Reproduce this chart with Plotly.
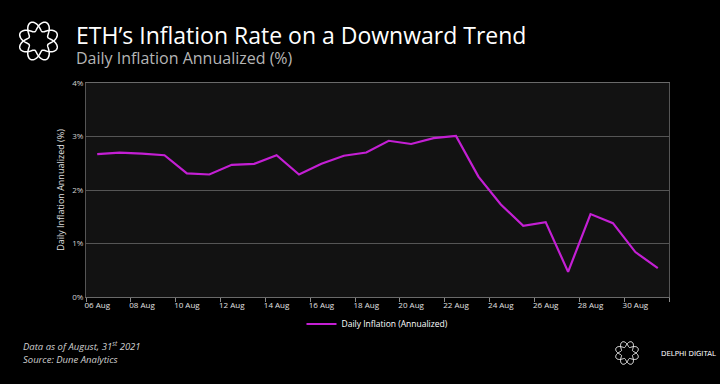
import math
import plotly.graph_objects as go

# ---- data ----
dates = ["06 Aug", "07 Aug", "08 Aug", "09 Aug", "10 Aug", "11 Aug", "12 Aug", "13 Aug",
         "14 Aug", "15 Aug", "16 Aug", "17 Aug", "18 Aug", "19 Aug", "20 Aug", "21 Aug",
         "22 Aug", "23 Aug", "24 Aug", "25 Aug", "26 Aug", "27 Aug", "28 Aug", "29 Aug",
         "30 Aug", "31 Aug"]
inflation = [2.67, 2.70, 2.68, 2.65, 2.31, 2.29, 2.47, 2.49, 2.65, 2.29, 2.49, 2.64, 2.70,
             2.92, 2.86, 2.97, 3.01, 2.25, 1.73, 1.33, 1.40, 0.47, 1.55, 1.38, 0.84, 0.54]
y_ticks = [0, 1, 2, 3, 4]
y_tick_labels = ["0%", "1%", "2%", "3%", "4%"]

W, H = 720, 384
L, R, T, B = 86, 669, 83, 297

def px(x):
    return (x - L) / (R - L)

def py(y):
    return (B - y) / (B - T)

fig = go.Figure()
fig.add_trace(go.Scatter(
    x=dates, y=inflation, mode="lines", name="Daily Inflation (Annualized)",
    line=dict(color="#c41fd4", width=2.2),
))

shapes = []
def logo(cx, cy, r0, amp, lw):
    # two interlaced wavy rings
    for sgn in (1, -1):
        pts = []
        n = 160
        for i in range(n + 1):
            th = 2 * math.pi * i / n
            r = r0 + sgn * amp * math.sin(4 * th)
            x = cx + r * math.cos(th)
            y = cy + r * math.sin(th)
            pts.append(f"{px(x):.5f},{py(y):.5f}")
        path = "M " + " L ".join(pts) + " Z"
        shapes.append(dict(type="path", xref="paper", yref="paper", path=path,
                           line=dict(color="white", width=lw)))

logo(38.5, 41, 15, 5, 1.5)
logo(627, 353, 9, 3, 1.0)

annotations = [
    dict(text="ETH’s Inflation Rate on a Downward Trend", x=px(74), y=py(35), xref="paper", yref="paper",
         xanchor="left", yanchor="middle", showarrow=False,
         font=dict(family="Open Sans", size=23, color="white")),
    dict(text="Daily Inflation Annualized (%)", x=px(74), y=py(58), xref="paper", yref="paper",
         xanchor="left", yanchor="middle", showarrow=False,
         font=dict(family="Open Sans", size=16, color="#b5b5b5")),
    dict(text="<i>Data as of August, 31<sup>st</sup> 2021</i>", x=px(21), y=py(346), xref="paper", yref="paper",
         xanchor="left", yanchor="middle", showarrow=False,
         font=dict(family="Open Sans", size=9.5, color="#cfcfcf")),
    dict(text="<i>Source: Dune Analytics</i>", x=px(21), y=py(359), xref="paper", yref="paper",
         xanchor="left", yanchor="middle", showarrow=False,
         font=dict(family="Open Sans", size=9.5, color="#cfcfcf")),
    dict(text="DELPHI DIGITAL", x=px(659), y=py(354), xref="paper", yref="paper",
         xanchor="left", yanchor="middle", showarrow=False,
         font=dict(family="DejaVu Sans", size=7, color="white")),
]

fig.update_layout(
    width=W, height=H,
    margin=dict(l=L, r=W - R, t=T, b=H - B),
    paper_bgcolor="black", plot_bgcolor="#121212",
    showlegend=True,
    legend=dict(orientation="h", x=0.5, xanchor="center", y=py(324), yanchor="middle",
                font=dict(family="Open Sans", size=8.5, color="white"), bgcolor="rgba(0,0,0,0)"),
    shapes=shapes, annotations=annotations,
    xaxis=dict(type="category", tickmode="linear", tick0=0, dtick=2, tickson="boundaries",
               range=[-0.5, len(dates) - 0.5], tickangle=0,
               showgrid=False, showline=True, linecolor="#6a6a6a", linewidth=1, mirror=True,
               ticks="outside", ticklen=4, tickcolor="#8a8a8a",
               tickfont=dict(family="Open Sans", size=8, color="#e0e0e0")),
    yaxis=dict(range=[0, 4], tickvals=y_ticks, ticktext=y_tick_labels,
               showgrid=True, gridcolor="#555555", gridwidth=1,
               showline=True, linecolor="#555555", mirror=True, zeroline=False,
               ticks="", tickfont=dict(family="Open Sans", size=8, color="#d0d0d0"),
               title=dict(text="Daily Inflation Annualized (%)", standoff=6,
                          font=dict(family="Open Sans", size=9, color="#e0e0e0"))),
)

fig.write_html("out.html", config={"displayModeBar": False},
               post_script="document.body.style.margin='0';")
